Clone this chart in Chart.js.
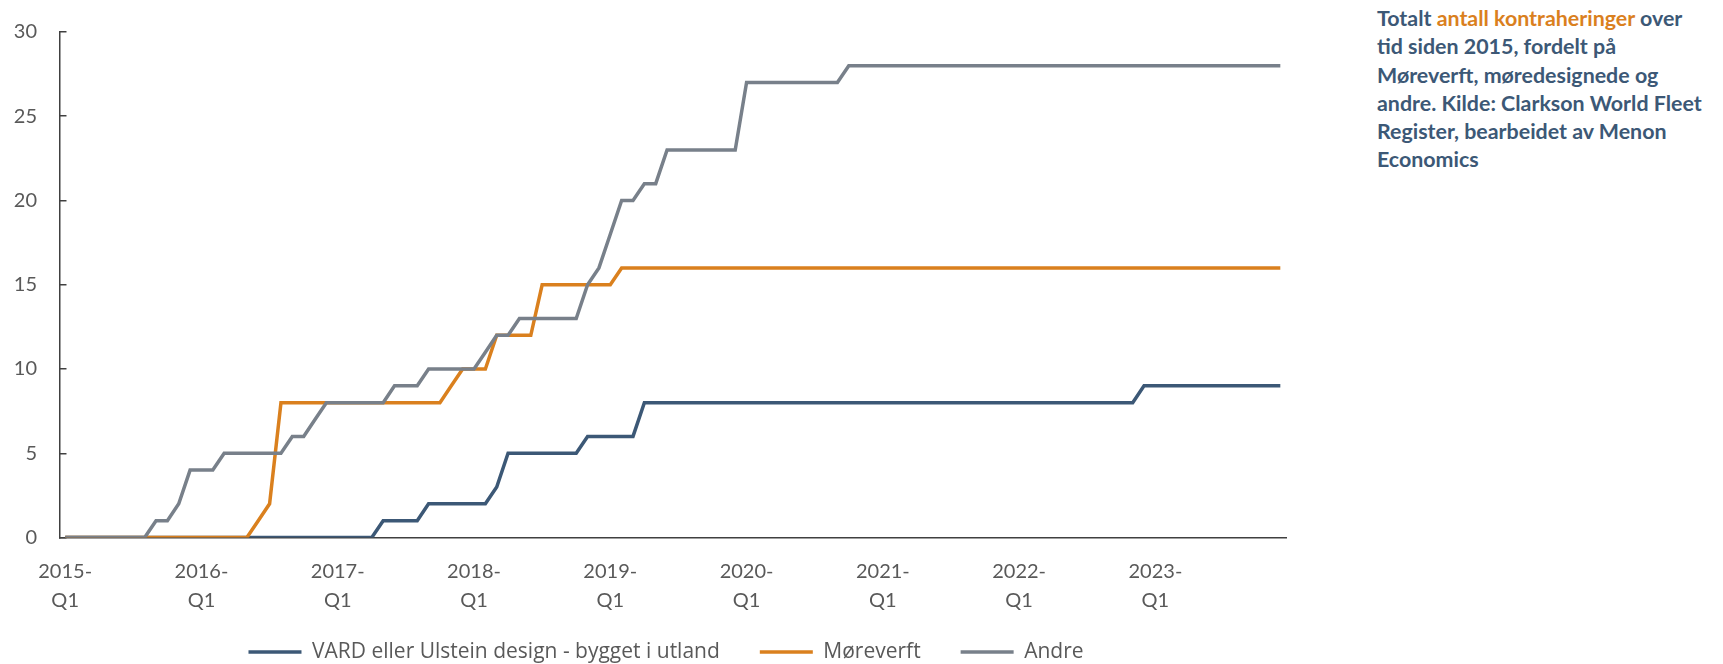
<!DOCTYPE html>
<html>
<head>
<meta charset="utf-8">
<script src="https://cdn.jsdelivr.net/npm/chart.js@4"></script>
<style>
  html, body { margin: 0; padding: 0; background: #fff; }
  body { width: 1723px; height: 664px; position: relative; overflow: hidden; }
  #wrap { position: absolute; left: 0; top: 0; width: 1340px; height: 664px; }
  #title {
    position: absolute; left: 1377px; top: 4px;
    font-family: Lato, sans-serif; font-weight: bold; font-size: 21.4px;
    line-height: 28.3px; color: #3C5876; white-space: nowrap;
  }
  #title .hl { color: #DA801E; }
</style>
</head>
<body>
<div id="wrap"><canvas id="contractsChart" width="1340" height="664"></canvas></div>
<div id="title">
  Totalt <span class="hl">antall kontraheringer</span> over<br>
  tid siden 2015, fordelt på<br>
  Møreverft, møredesignede og<br>
  andre. Kilde: Clarkson World Fleet<br>
  Register, bearbeidet av Menon<br>
  Economics
</div>
<script>
const years = ['2015', '2016', '2017', '2018', '2019', '2020', '2021', '2022', '2023'];
const months = ['01', '02', '03', '04', '05', '06', '07', '08', '09', '10', '11', '12'];

// cumulative contracts per month, Jan 2015 - Dec 2023
const vardUtland = [
    0, 0, 0, 0, 0, 0, 0, 0, 0, 0, 0, 0,
    0, 0, 0, 0, 0, 0, 0, 0, 0, 0, 0, 0,
    0, 0, 0, 0, 1, 1, 1, 1, 2, 2, 2, 2,
    2, 2, 3, 5, 5, 5, 5, 5, 5, 5, 6, 6,
    6, 6, 6, 8, 8, 8, 8, 8, 8, 8, 8, 8,
    8, 8, 8, 8, 8, 8, 8, 8, 8, 8, 8, 8,
    8, 8, 8, 8, 8, 8, 8, 8, 8, 8, 8, 8,
    8, 8, 8, 8, 8, 8, 8, 8, 8, 8, 8, 9,
    9, 9, 9, 9, 9, 9, 9, 9, 9, 9, 9, 9
];
const moreverft = [
    0, 0, 0, 0, 0, 0, 0, 0, 0, 0, 0, 0,
    0, 0, 0, 0, 0, 1, 2, 8, 8, 8, 8, 8,
    8, 8, 8, 8, 8, 8, 8, 8, 8, 8, 9, 10,
    10, 10, 12, 12, 12, 12, 15, 15, 15, 15, 15, 15,
    15, 16, 16, 16, 16, 16, 16, 16, 16, 16, 16, 16,
    16, 16, 16, 16, 16, 16, 16, 16, 16, 16, 16, 16,
    16, 16, 16, 16, 16, 16, 16, 16, 16, 16, 16, 16,
    16, 16, 16, 16, 16, 16, 16, 16, 16, 16, 16, 16,
    16, 16, 16, 16, 16, 16, 16, 16, 16, 16, 16, 16
];
const andre = [
    0, 0, 0, 0, 0, 0, 0, 0, 1, 1, 2, 4,
    4, 4, 5, 5, 5, 5, 5, 5, 6, 6, 7, 8,
    8, 8, 8, 8, 8, 9, 9, 9, 10, 10, 10, 10,
    10, 11, 12, 12, 13, 13, 13, 13, 13, 13, 15, 16,
    18, 20, 20, 21, 21, 23, 23, 23, 23, 23, 23, 23,
    27, 27, 27, 27, 27, 27, 27, 27, 27, 28, 28, 28,
    28, 28, 28, 28, 28, 28, 28, 28, 28, 28, 28, 28,
    28, 28, 28, 28, 28, 28, 28, 28, 28, 28, 28, 28,
    28, 28, 28, 28, 28, 28, 28, 28, 28, 28, 28, 28
];
const seriesNames = ['VARD eller Ulstein design - bygget i utland', 'Møreverft', 'Andre'];
const seriesColors = ['#3C5876', '#DA801E', '#78808A'];

const labels = [];
years.forEach((y) => months.forEach((m) => labels.push(y + '-' + m)));

const tickFont = { family: 'Lato', size: 20, lineHeight: 1.45 };
const axisColor = '#404040';

// legend sits below the two-line year labels, spread across the canvas width
const legendPlacePlugin = {
    id: 'legendPlace',
    beforeLayout(chart) {
        const legend = chart.legend;
        if (legend && !legend._fixedFit) {
            const origFit = legend.fit;
            legend.fit = function () {
                origFit.call(this);
                if (this.isHorizontal()) this.height = 46.5;
            };
            legend._fixedFit = true;
        }
    },
    afterLayout(chart) {
        const legend = chart.legend;
        legend.left = 0;
        legend.right = 1332;
        legend.top = 601.5;
        legend.bottom = 664;
    },
};

const ctx = document.getElementById('contractsChart').getContext('2d');
new Chart(ctx, {
    type: 'line',
    data: {
        labels: labels,
        datasets: [vardUtland, moreverft, andre].map((values, i) => ({
            label: seriesNames[i],
            data: values,
            borderColor: seriesColors[i],
            backgroundColor: seriesColors[i],
            borderWidth: 3.5,
            pointRadius: 0,
            tension: 0,
            order: 3 - i,
        })),
    },
    options: {
        responsive: false,
        animation: false,
        layout: { padding: { top: 32, left: 0, right: 54, bottom: 0 } },
        scales: {
            x: {
                type: 'category',
                offset: true,
                grid: { display: false, drawTicks: false },
                border: { display: true, color: axisColor, width: 1.5 },
                ticks: {
                    autoSkip: false,
                    maxRotation: 0,
                    minRotation: 0,
                    padding: 20,
                    color: '#595959',
                    font: tickFont,
                    callback: (value, index) => index % 12 === 0 ? [years[index / 12] + '-', 'Q1'] : '',
                },
                afterFit: (scale) => { scale.height = 80; },
            },
            y: {
                min: 0,
                max: 30,
                grid: { display: true, drawOnChartArea: false, drawTicks: true, tickLength: -7, color: axisColor, lineWidth: 1.5 },
                border: { display: true, color: axisColor, width: 1.5 },
                ticks: { stepSize: 5, padding: 29.5, color: '#595959', font: tickFont },
                afterFit: (scale) => {
                    scale.width = 59.5;
                    scale.paddingTop = 0;
                    scale.paddingBottom = 0;
                },
            },
        },
        plugins: {
            legend: {
                position: 'bottom',
                labels: {
                    usePointStyle: true,
                    pointStyle: 'line',
                    pointStyleWidth: 53,
                    padding: 40,
                    color: '#595959',
                    font: { family: 'Open Sans', size: 21 },
                    sort: (a, b) => a.datasetIndex - b.datasetIndex,
                },
            },
            tooltip: { enabled: false },
        },
    },
    plugins: [legendPlacePlugin],
});
</script>
</body>
</html>
